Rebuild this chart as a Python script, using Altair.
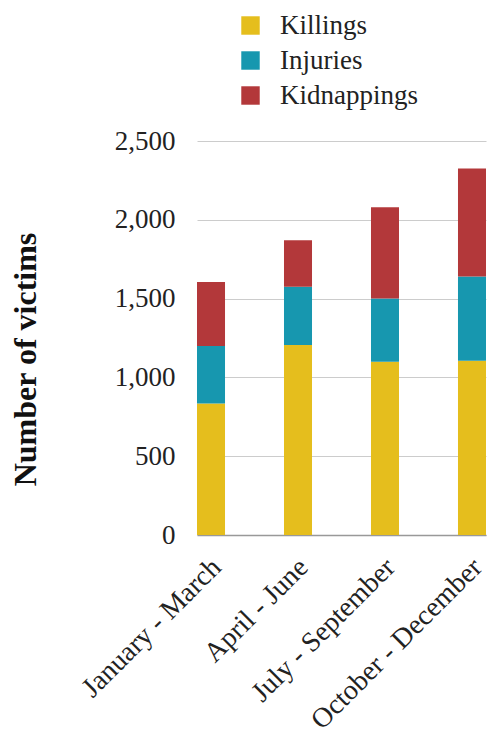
import altair as alt
import pandas as pd

quarters = ["January - March", "April - June", "July - September", "October - December"]
categories = ["Killings", "Injuries", "Kidnappings"]
killings = [835, 1205, 1100, 1105]
injuries = [365, 370, 400, 535]
kidnappings = [405, 295, 580, 685]
colors = ["#E5BE1D", "#1797AF", "#B3383A"]

rows = []
for i, q in enumerate(quarters):
    for j, (c, vals) in enumerate(zip(categories, [killings, injuries, kidnappings])):
        rows.append({"quarter": q, "type": c, "value": vals[i], "ord": j})
df = pd.DataFrame(rows)

FONT = "Liberation Serif"

chart = alt.Chart(df).mark_bar().encode(
    x=alt.X("quarter:N", sort=quarters,
            scale=alt.Scale(paddingInner=0.678, paddingOuter=0),
            axis=alt.Axis(title=None, labelAngle=-45, labelFontSize=28, labelFont=FONT,
                          labelColor="#222", ticks=False, domainColor="#999",
                          domainWidth=1.5, labelPadding=18, labelLimit=0, labelOffset=-4)),
    y=alt.Y("value:Q", stack="zero",
            scale=alt.Scale(domain=[0, 2500]),
            axis=alt.Axis(title="Number of victims", values=[0, 500, 1000, 1500, 2000, 2500],
                          format=",.0f", labelFontSize=27, labelFont=FONT, labelColor="#222",
                          ticks=False, domain=False, labelPadding=22,
                          gridColor="#cccccc", gridWidth=1,
                          titleFont=FONT, titleFontSize=32, titleFontWeight="bold",
                          titleColor="#111", titleY=218, titleX=-155)),
    color=alt.Color("type:N", sort=categories,
                    scale=alt.Scale(domain=categories, range=colors),
                    legend=alt.Legend(title=None, orient="none", legendX=40, legendY=-129,
                                      symbolType="square", symbolSize=340,
                                      symbolStrokeWidth=0, labelFontSize=27, labelFont=FONT,
                                      labelColor="#222", labelOffset=16, rowPadding=7)),
    order=alt.Order("ord:Q"),
).properties(
    width=289, height=394,
    padding={"left": 197, "top": 141, "right": 2, "bottom": 203},
    autosize=alt.AutoSizeParams(type="none"),
).configure_view(stroke=None)

chart.save("out.html", embed_options={"renderer": "svg", "actions": False})
